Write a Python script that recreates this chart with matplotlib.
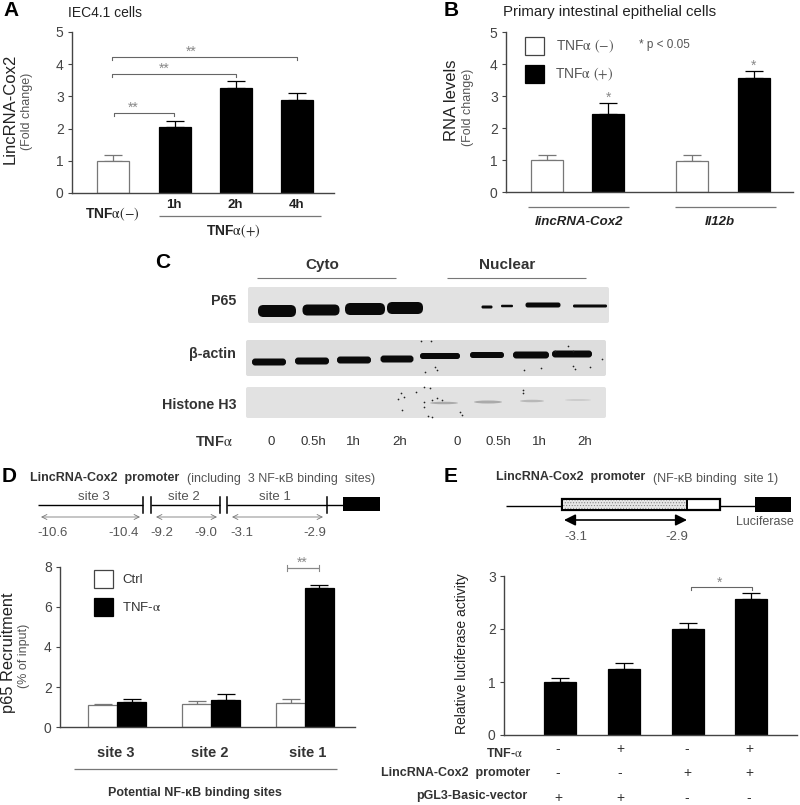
import matplotlib
matplotlib.use('Agg')
import matplotlib.pyplot as plt
from matplotlib.patches import Rectangle, FancyBboxPatch, Ellipse

plt.rcParams['font.family'] = ['Liberation Sans', 'DejaVu Sans']
plt.rcParams['mathtext.fontset'] = 'stix'
plt.rcParams['hatch.linewidth'] = 0.4

# panel A
a_labels = ['1h', '2h', '4h']
a_values = [1.0, 2.05, 3.27, 2.9]
a_errors = [0.17, 0.2, 0.2, 0.22]
# panel B
b_genes = ['lincRNA-Cox2', 'Il12b']
b_minus = [1.0, 0.97]
b_minus_err = [0.17, 0.18]
b_plus = [2.45, 3.57]
b_plus_err = [0.32, 0.2]
# panel C
c_times = ['0', '0.5h', '1h', '2h', '0', '0.5h', '1h', '2h']
# panel D
d_sites = ['site 3', 'site 2', 'site 1']
d_ctrl = [1.1, 1.17, 1.2]
d_ctrl_err = [0.07, 0.12, 0.2]
d_tnf = [1.27, 1.37, 6.97]
d_tnf_err = [0.12, 0.27, 0.15]
# panel E
e_values = [1.0, 1.25, 2.0, 2.56]
e_errors = [0.07, 0.1, 0.11, 0.12]
e_tnf = ['-', '+', '-', '+']
e_promoter = ['-', '-', '+', '+']
e_vector = ['+', '+', '-', '-']

W, H = 800, 805
GREY = '#555555'
TEXT = '#222222'
ALPHA = r'$\mathrm{\alpha}$'
fig = plt.figure(figsize=(W / 100, H / 100), dpi=100, facecolor='white')

# full figure layer in pixel coordinates for the annotations
bg = fig.add_axes([0, 0, 1, 1], zorder=5)
bg.set_xlim(0, W)
bg.set_ylim(H, 0)
bg.axis('off')
bg.patch.set_alpha(0)


def label(x, y, s, size=9, color=TEXT, ha='center', **kw):
    bg.text(x, y, s, fontsize=size, color=color, ha=ha, va='center', **kw)


def hline(x0, x1, y, color='#777777', lw=0.9):
    bg.plot([x0, x1], [y, y], color=color, lw=lw, solid_capstyle='butt')


def make_axes(x0, x1, ytop, ybottom, ymax, ticks):
    ax = fig.add_axes([x0 / W, 1 - ybottom / H, (x1 - x0) / W, (ybottom - ytop) / H])
    ax.set_xlim(x0, x1)
    ax.set_ylim(0, ymax)
    ax.set_yticks(ticks)
    ax.set_xticks([])
    for side in ['top', 'right']:
        ax.spines[side].set_visible(False)
    for side in ['left', 'bottom']:
        ax.spines[side].set_color('#444444')
        ax.spines[side].set_linewidth(1.0)
    ax.tick_params(axis='y', length=3, width=0.8, color='#444444', labelsize=10,
                   labelcolor='#444444', pad=3)
    return ax


def bars(ax, xs, values, errors, width, white=False):
    face = 'white' if white else 'black'
    edge = '#777777' if white else 'black'
    ax.bar(xs, values, width, color=face, edgecolor=edge, linewidth=0.9, zorder=2)
    ax.errorbar(xs, values, yerr=[[0] * len(xs), errors], fmt='none', ecolor=edge,
                elinewidth=0.9, capsize=6.5, capthick=0.9, zorder=1)


def bracket(x0, x1, y, starx, stary, stars='**', drop=3):
    bg.plot([x0, x0, x1, x1], [y + drop, y, y, y + drop], color='#666666', lw=0.8)
    label(starx, stary, stars, size=10, color='#888888')


def arrow(x0, x1, y):
    bg.annotate('', xy=(x0, y), xytext=(x1, y),
                arrowprops=dict(arrowstyle='<->', color='#777777', lw=0.6, mutation_scale=9,
                                shrinkA=0, shrinkB=0))


def band(x, y, w, h, color='#0a0a0a'):
    # blot band, pill shaped
    bg.add_patch(FancyBboxPatch((x - w / 2, y - h / 2), w, h,
                                boxstyle='round,pad=0,rounding_size=%f' % (h * 0.45),
                                fc=color, ec='none'))


# ---- A
ax = make_axes(72, 334, 32, 193, 5, range(6))
xs = [113, 175, 236, 297]
bars(ax, xs[:1], a_values[:1], a_errors[:1], 32, white=True)
bars(ax, xs[1:], a_values[1:], a_errors[1:], 32)
label(3, 11, 'A', size=15, ha='left', weight='bold', color='black')
label(68, 13, 'IEC4.1 cells', size=10, ha='left')
label(10, 109, 'LincRNA-Cox2', size=12, rotation=90)
label(27, 111, '(Fold change)', size=9, color=GREY, rotation=90)
bracket(114, 174, 113, 133, 108)
bracket(112, 236, 74, 164, 69)
bracket(112, 297, 57, 191, 52)
for x, s in zip([174, 235, 297], a_labels):
    label(x, 205, s, size=9.5, weight='bold')
label(112, 214, 'TNF' + ALPHA + r'$(-)$', size=10, weight='bold')
hline(159, 321, 216)
label(233, 231, 'TNF' + ALPHA + r'$(+)$', size=10, weight='bold')

# ---- B
ax = make_axes(506, 793, 32, 192, 5, range(6))
bars(ax, [547, 692], b_minus, b_minus_err, 32, white=True)
bars(ax, [608, 754], b_plus, b_plus_err, 32)
label(444, 11, 'B', size=15, ha='left', weight='bold', color='black')
label(503, 12, 'Primary intestinal epithelial cells', size=10.8, ha='left')
label(451, 100, 'RNA levels', size=12, rotation=90)
label(468, 107, '(Fold change)', size=9, color=GREY, rotation=90)
bg.add_patch(Rectangle((525, 37), 19, 18, fc='white', ec='#444444', lw=0.9))
bg.add_patch(Rectangle((525, 65), 19, 18, fc='black', ec='black', lw=0.9))
label(556, 46, 'TNF' + ALPHA + r' $(-)$', size=10, color=GREY, ha='left')
label(555, 74, 'TNF' + ALPHA + r' $(+)$', size=10, color=GREY, ha='left')
label(639, 45, '* p < 0.05', size=8.5, color=GREY, ha='left')
label(609, 98, '*', size=10, color='#888888')
label(754, 66, '*', size=10, color='#888888')
hline(528, 629, 207)
hline(675, 776, 207)
for x, s in zip([579, 720], b_genes):
    label(x, 222, s, size=9.5, style='italic', weight='bold')

# ---- C
label(155, 262, 'C', size=15, ha='left', weight='bold', color='black')
label(322, 265, 'Cyto', size=11, weight='bold', color='#333333')
label(507, 265, 'Nuclear', size=11, weight='bold', color='#333333')
hline(257, 396, 278, lw=0.8)
hline(447, 586, 278, lw=0.8)
for x0, x1, y0, y1, tone in [(248, 609, 287, 323, '#e2e2e2'),
                             (246, 606, 340, 376, '#dddddd'),
                             (246, 606, 387, 418, '#e2e2e2')]:
    bg.add_patch(FancyBboxPatch((x0, y0), x1 - x0, y1 - y0, boxstyle='round,pad=0,rounding_size=2',
                                fc=tone, ec='none'))
p65_bands = [(277, 311, 38, 12), (321, 310, 37, 11), (365, 309, 40, 12), (405, 308, 36, 12),
             (487, 307, 11, 3), (507, 306, 12, 2.5), (543, 305, 35, 5), (590, 306, 34, 3)]
actin_bands = [(269, 362, 34, 7), (312, 361, 34, 7), (354, 360, 34, 7), (397, 359, 33, 7),
               (440, 356, 40, 6), (487, 355, 34, 6), (531, 355, 36, 7), (572, 354, 40, 7)]
histone_bands = [(444, 403, 28, 2.5, '#aaaaaa'), (488, 402, 28, 3, '#aaaaaa'),
                 (532, 401, 24, 2.5, '#b8b8b8'), (578, 400, 26, 2, '#cccccc')]
for x, y, w, h in p65_bands + actin_bands:
    band(x, y, w, h)
for x, y, w, h, c in histone_bands:
    bg.add_patch(Ellipse((x, y), w, h, fc=c, ec='none'))
speck_x = [421, 431, 435, 425, 437, 424, 430, 424, 432, 437, 442, 424, 428, 432, 401, 398, 404,
           416, 460, 462, 524, 523, 541, 555, 568, 573, 575, 590, 602, 523, 573, 402]
speck_y = [341, 341, 367, 372, 370, 387, 388, 402, 400, 398, 400, 407, 416, 417, 393, 399, 397,
           392, 412, 415, 370, 390, 368, 351, 346, 366, 369, 367, 359, 393, 351, 410]
bg.scatter(speck_x, speck_y, s=1.5, color='#222222', linewidths=0)
label(236, 301, 'P65', size=10.3, ha='right', weight='bold', color='#333333')
label(236, 354, '\u03b2-actin', size=10.3, ha='right', weight='bold', color='#333333')
label(236, 405, 'Histone H3', size=10.3, ha='right', weight='bold', color='#333333')
label(233, 442, 'TNF' + ALPHA, size=10.5, ha='right', weight='bold', color='#333333')
for x, s in zip([271, 313, 353, 400, 457, 498, 539, 585], c_times):
    label(x, 442, s, size=9.5, color='#333333')

# ---- D
label(2, 476, 'D', size=15, ha='left', weight='bold', color='black')
label(30, 478, 'LincRNA-Cox2  promoter', size=9, ha='left', weight='bold', color='#333333')
label(187, 479, '(including  3 NF-\u03baB binding  sites)', size=9, ha='left', color=GREY)
for x0, x1 in [(38, 143), (151, 220), (227, 343)]:
    hline(x0, x1, 505, color='black', lw=1.0)
for x in [143, 151, 220, 227, 327]:
    bg.plot([x, x], [497, 513], color='black', lw=1.1)
bg.add_patch(Rectangle((343, 497), 37, 14, fc='black', ec='none'))
for x0, x1 in [(41, 140), (156, 217), (232, 323)]:
    arrow(x0, x1, 517)
for x, s in zip([94, 184, 275], ['site 3', 'site 2', 'site 1']):
    label(x, 497, s, size=9.5, color=GREY)
for x, s in zip([53, 124, 162, 206, 242, 315], ['-10.6', '-10.4', '-9.2', '-9.0', '-3.1', '-2.9']):
    label(x, 533, s, size=9.5, color=GREY)
ax = make_axes(60, 355, 567, 727, 8, [0, 2, 4, 6, 8])
bars(ax, [102.5, 196.5, 290.5], d_ctrl, d_ctrl_err, 29, white=True)
bars(ax, [131.5, 225.5, 319], d_tnf, d_tnf_err, 29)
label(9, 653, 'p65 Recruitment', size=11.8, rotation=90)
label(24, 656, '(% of input)', size=9, color=GREY, rotation=90)
bg.add_patch(Rectangle((94, 570), 19, 18, fc='white', ec='#444444', lw=0.9))
bg.add_patch(Rectangle((94, 598), 19, 18, fc='black', ec='black', lw=0.9))
label(122, 580, 'Ctrl', size=9.5, ha='left', color='#333333')
label(122, 607, 'TNF-' + ALPHA, size=9.5, ha='left', color='#333333')
hline(287, 319, 568, color='#888888')
for x in [287, 319]:
    bg.plot([x, x], [565, 571], color='#888888', lw=0.8)
label(302, 563, '**', size=10, color='#888888')
for x, s in zip([116, 210, 308], d_sites):
    label(x, 753, s, size=10.5, weight='bold', color='#333333')
hline(74, 337, 769)
label(195, 793, 'Potential NF-\u03baB binding sites', size=9, weight='bold', color='#333333')

# ---- E
label(444, 476, 'E', size=15, ha='left', weight='bold', color='black')
label(496, 477, 'LincRNA-Cox2  promoter', size=9, ha='left', weight='bold', color='#333333')
label(653, 479, '(NF-\u03baB binding  site 1)', size=9, ha='left', color=GREY)
hline(506, 562, 506, color='black', lw=1.0)
hline(720, 755, 506, color='black', lw=1.0)
bg.add_patch(Rectangle((562, 499), 158, 11, fc='white', ec='black', lw=1.6))
bg.add_patch(Rectangle((563, 500), 124, 9, fc='#e6e6e6', ec='#777777', lw=0, hatch='......'))
bg.plot([687, 687], [499, 510], color='black', lw=1.4)
bg.add_patch(Rectangle((755, 497), 36, 15, fc='black', ec='none'))
bg.annotate('', xy=(564, 520), xytext=(687, 520),
            arrowprops=dict(arrowstyle='<|-|>', color='black', lw=1.2, mutation_scale=17,
                            shrinkA=0, shrinkB=0))
label(576, 537, '-3.1', size=9.5, color=GREY)
label(677, 537, '-2.9', size=9.5, color=GREY)
label(765, 522, 'Luciferase', size=9, color=GREY, ha='center')
ax = make_axes(504, 797, 576, 735, 3, range(4))
bars(ax, [560, 624, 688, 751], e_values, e_errors, 32)
label(462, 654, 'Relative luciferase activity', size=10, rotation=90)
bracket(691, 752, 587, 720, 583, stars='*')
label(523, 753, 'TNF-' + ALPHA, size=9, ha='right', weight='bold', color='#333333')
label(530, 773, 'LincRNA-Cox2  promoter', size=9, ha='right', weight='bold', color='#333333')
label(527, 796, 'pGL3-Basic-vector', size=9, ha='right', weight='bold', color='#333333')
for y, row in zip([749, 773, 798], [e_tnf, e_promoter, e_vector]):
    for x, s in zip([558, 620, 687, 749], row):
        label(x, y, s, size=10, color='#333333')

fig.savefig('out.png', dpi=100, facecolor='white')
